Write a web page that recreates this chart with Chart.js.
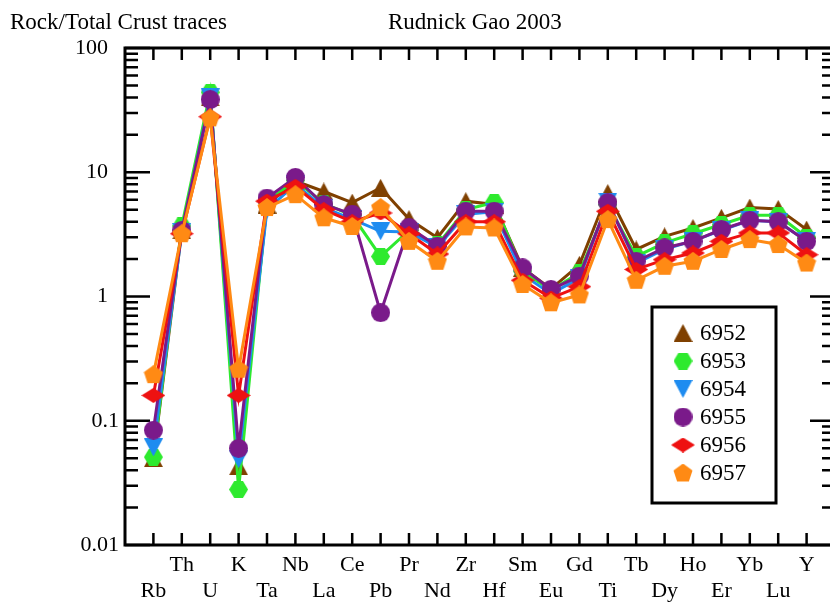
<!DOCTYPE html>
<html>
<head>
<meta charset="utf-8">
<script src="https://cdn.jsdelivr.net/npm/chart.js@4"></script>
<style>
  html, body { margin: 0; padding: 0; background: #fff; overflow: hidden; }
  #wrap { width: 847px; height: 603px; }
</style>
</head>
<body>
<div id="wrap"><canvas id="spider" width="847" height="603"></canvas></div>
<script>
// element order on the x axis
const elements = ["Rb", "Th", "U", "K", "Ta", "Nb", "La", "Ce", "Pb", "Pr", "Nd", "Zr",
  "Hf", "Sm", "Eu", "Gd", "Ti", "Tb", "Dy", "Ho", "Er", "Yb", "Lu", "Y"];

// rock / total crust
const s6952 = [0.05, 3.4, 40, 0.043, 5.5, 8.5, 7.0, 5.7, 7.5, 4.2, 2.97, 5.85, 5.5, 1.7, 1.15, 1.8, 6.8, 2.39, 3.05, 3.56, 4.3, 5.2, 5.07, 3.46];
const s6953 = [0.051, 3.7, 44, 0.028, 5.8, 8.6, 5.6, 4.5, 2.1, 3.4, 2.6, 5.0, 5.7, 1.6, 1.12, 1.55, 5.5, 2.1, 2.7, 3.2, 3.8, 4.5, 4.5, 3.0];
const s6954 = [0.061, 3.3, 40, 0.049, 5.0, 8.0, 5.2, 4.2, 3.35, 3.3, 2.5, 4.6, 4.8, 1.5, 1.05, 1.4, 5.8, 1.85, 2.4, 2.8, 3.4, 4.1, 4.0, 2.8];
const s6955 = [0.084, 3.4, 38.5, 0.06, 6.2, 9.1, 5.5, 4.6, 0.74, 3.6, 2.54, 4.86, 4.86, 1.7, 1.14, 1.46, 5.7, 1.92, 2.46, 2.78, 3.46, 4.1, 4.0, 2.78];
const s6956 = [0.16, 3.2, 28, 0.16, 5.85, 7.7, 5.0, 4.0, 4.7, 3.2, 2.2, 4.0, 4.0, 1.35, 0.97, 1.2, 4.85, 1.65, 1.98, 2.24, 2.78, 3.25, 3.25, 2.17];
const s6957 = [0.235, 3.2, 27.4, 0.26, 5.2, 6.6, 4.3, 3.66, 5.2, 2.78, 1.92, 3.63, 3.56, 1.25, 0.89, 1.03, 4.16, 1.35, 1.75, 1.92, 2.39, 2.87, 2.62, 1.86];

const yTicks = [0.01, 0.1, 1, 10, 100];

const FONT = "'Liberation Serif', 'Times New Roman', serif";

// little canvases used as point markers
function marker(shape, color, w, h) {
  const c = document.createElement("canvas");
  c.width = w; c.height = h;
  const g = c.getContext("2d");
  g.fillStyle = color;
  g.beginPath();
  const cx = w / 2, cy = h / 2;
  if (shape === "tri") {
    g.moveTo(cx, 0); g.lineTo(w, h); g.lineTo(0, h);
  } else if (shape === "tridown") {
    g.moveTo(0, 0); g.lineTo(w, 0); g.lineTo(cx, h);
  } else if (shape === "hex") {
    g.moveTo(0, cy); g.lineTo(w * 0.27, 0); g.lineTo(w * 0.73, 0);
    g.lineTo(w, cy); g.lineTo(w * 0.73, h); g.lineTo(w * 0.27, h);
  } else if (shape === "circle") {
    g.arc(cx, cy, w / 2, 0, Math.PI * 2);
  } else if (shape === "diamond") {
    g.moveTo(0, cy); g.lineTo(cx, 0); g.lineTo(w, cy); g.lineTo(cx, h);
  } else if (shape === "penta") {
    const r = w / 2;
    for (let i = 0; i < 5; i++) {
      const a = -Math.PI / 2 + i * 2 * Math.PI / 5;
      const px = cx + r * Math.cos(a), py = r + r * Math.sin(a);
      if (i === 0) g.moveTo(px, py); else g.lineTo(px, py);
    }
  }
  g.closePath();
  g.fill();
  return c;
}

const series = [
  { label: "6952", data: s6952, color: "#7f4000", pt: marker("tri", "#7f4000", 19, 18) },
  { label: "6953", data: s6953, color: "#2eea2e", pt: marker("hex", "#2eea2e", 19, 17) },
  { label: "6954", data: s6954, color: "#1e8cf0", pt: marker("tridown", "#1e8cf0", 19, 18) },
  { label: "6955", data: s6955, color: "#7a1a8a", pt: marker("circle", "#7a1a8a", 19, 19) },
  { label: "6956", data: s6956, color: "#ee1111", pt: marker("diamond", "#ee1111", 24, 15) },
  { label: "6957", data: s6957, color: "#ff8a14", pt: marker("penta", "#ff8a14", 20, 19) },
];

const datasets = series.map((s, k) => ({
  label: s.label,
  data: s.data.map((v, i) => ({ x: i, y: v })),
  borderColor: s.color,
  backgroundColor: s.color,
  borderWidth: 3,
  pointStyle: s.pt,
  pointRadius: 9,
  tension: 0,
  order: series.length - k,
}));

// frame with inward ticks, like the original plot
const framePlugin = {
  id: "frame",
  beforeDatasetsDraw(chart) {
    const { ctx, chartArea: a, scales: { x, y } } = chart;
    ctx.save();
    ctx.strokeStyle = "#000";
    ctx.lineCap = "butt";
    ctx.lineWidth = 2.5;
    for (let i = 0; i < elements.length; i++) {
      const px = x.getPixelForValue(i);
      ctx.beginPath();
      ctx.moveTo(px, a.top); ctx.lineTo(px, a.top + 12);
      ctx.moveTo(px, a.bottom); ctx.lineTo(px, a.bottom - 12);
      ctx.stroke();
    }
    for (let d = -2; d <= 2; d++) {
      for (let m = 1; m <= 9; m++) {
        const v = m * Math.pow(10, d);
        if (v > 100) break;
        const py = y.getPixelForValue(v);
        const len = m === 1 ? 25 : 13;
        ctx.beginPath();
        ctx.moveTo(a.left, py); ctx.lineTo(a.left + len, py);
        ctx.moveTo(a.right, py); ctx.lineTo(a.right - len, py);
        ctx.stroke();
      }
    }
    ctx.lineWidth = 3;
    ctx.beginPath();
    ctx.moveTo(a.left, a.top); ctx.lineTo(a.left, a.bottom);
    ctx.lineTo(a.right, a.bottom); ctx.lineTo(a.right, a.top);
    ctx.closePath();
    ctx.stroke();
    ctx.restore();
  },
  afterDraw(chart) {
    const ctx = chart.ctx;
    ctx.save();
    ctx.fillStyle = "#000";
    ctx.font = "23px " + FONT;
    ctx.textBaseline = "alphabetic";
    ctx.fillText("Rock/Total Crust traces", 10, 29);
    ctx.fillText("Rudnick Gao 2003", 388, 29);

    // legend box inside the plot
    const bx = 652, by = 307, bw = 124, bh = 196;
    ctx.lineWidth = 3;
    ctx.fillStyle = "#fff";
    ctx.fillRect(bx, by, bw, bh);
    ctx.strokeStyle = "#000";
    ctx.strokeRect(bx, by, bw, bh);
    ctx.font = "23px " + FONT;
    ctx.textBaseline = "middle";
    ctx.fillStyle = "#000";
    series.forEach((s, k) => {
      const cy = 333 + k * 28;
      const img = s.pt;
      ctx.drawImage(img, 683 - img.width / 2, cy - img.height / 2);
      ctx.fillText(s.label, 700, cy + 1);
    });
    ctx.restore();
  },
};

const config = {
  type: "line",
  data: { datasets: datasets },
  options: {
    responsive: false,
    animation: false,
    events: [],
    layout: { padding: { top: 48, right: 6, left: 0, bottom: 0 } },
    plugins: {
      legend: { display: false },
      tooltip: { enabled: false },
    },
    scales: {
      x: {
        type: "linear",
        min: -1,
        max: 24,
        grid: { display: false, drawTicks: false },
        border: { display: false },
        afterFit: (scale) => { scale.height = 58; },
        afterBuildTicks: (scale) => {
          scale.ticks = elements.map((e, i) => ({ value: i }));
        },
        ticks: {
          autoSkip: false,
          maxRotation: 0,
          padding: 8,
          color: "#000",
          font: { family: FONT, size: 22, lineHeight: 1.15 },
          callback: (v) => {
            const name = elements[v];
            if (name === undefined) return "";
            return v % 2 === 1 ? [name] : [" ", name];
          },
        },
      },
      y: {
        type: "logarithmic",
        min: 0.01,
        max: 100,
        grid: { display: false, drawTicks: false },
        border: { display: false },
        afterFit: (scale) => { scale.width = 125; },
        afterBuildTicks: (scale) => {
          scale.ticks = yTicks.map((v) => ({ value: v }));
        },
        ticks: {
          padding: 6,
          color: "#000",
          font: { family: FONT, size: 22 },
          callback: (v) => (v >= 1 ? String(v) + "\u2007" : String(v)),
        },
      },
    },
  },
  plugins: [framePlugin],
};

const spiderChart = new Chart(document.getElementById("spider"), config);
</script>
</body>
</html>
